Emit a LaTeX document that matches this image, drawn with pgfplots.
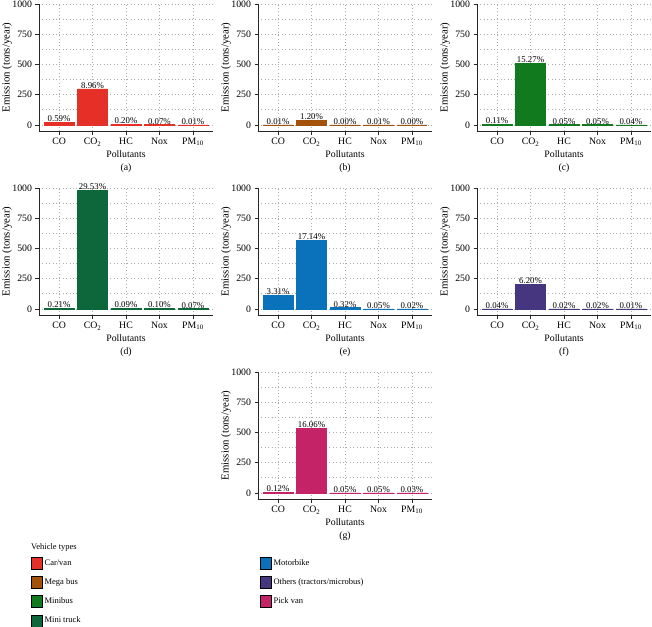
\documentclass[border=0pt]{standalone}
\usepackage{fontspec}
\setmainfont{Liberation Serif}
\usepackage{pgfplots}
\pgfplotsset{compat=1.18}
\usepackage{pgfplotstable}

\definecolor{cCar}{HTML}{E53027}
\definecolor{cMega}{HTML}{A2520A}
\definecolor{cMini}{HTML}{117A1F}
\definecolor{cTruck}{HTML}{0D673A}
\definecolor{cMoto}{HTML}{0A72BA}
\definecolor{cOth}{HTML}{46357F}
\definecolor{cPick}{HTML}{C42368}

% x = pollutant index, y = emission (tons/year), p = share (%)
\pgfplotstableread{
x y p
0 19.6 0.59
1 297.5 8.96
2 6.6 0.20
3 2.3 0.07
4 0.3 0.01
}\tA
\pgfplotstableread{
x y p
0 0.3 0.01
1 39.8 1.20
2 0.0 0.00
3 0.3 0.01
4 0.0 0.00
}\tB
\pgfplotstableread{
x y p
0 3.7 0.11
1 507 15.27
2 1.7 0.05
3 1.7 0.05
4 1.3 0.04
}\tC
\pgfplotstableread{
x y p
0 7.0 0.21
1 980 29.53
2 3.0 0.09
3 3.3 0.10
4 2.3 0.07
}\tD
\pgfplotstableread{
x y p
0 109.9 3.31
1 569 17.14
2 10.6 0.32
3 1.7 0.05
4 0.7 0.02
}\tE
\pgfplotstableread{
x y p
0 1.3 0.04
1 205.8 6.20
2 0.7 0.02
3 0.7 0.02
4 0.3 0.01
}\tF
\pgfplotstableread{
x y p
0 4.0 0.12
1 533 16.06
2 1.7 0.05
3 1.7 0.05
4 1.0 0.03
}\tG

\pgfplotsset{
  panel/.style={
    scale only axis, width=174pt, height=127pt,
    xmin=-0.6, xmax=4.6, ymin=-50, ymax=1000,
    clip=false,
    axis x line*=bottom, axis y line*=left,
    axis line style={-, line width=0.8pt, black!85},
    xtick={0,1,2,3,4},
    xticklabels={CO, CO\textsubscript{2}, HC, Nox, PM\textsubscript{10}},
    ytick={0,250,500,750,1000},
    minor ytick={125,375,625,875},
    xmajorgrids, ymajorgrids, yminorgrids,
    major grid style={gray!65, line width=0.7pt, dash pattern=on 0.7pt off 2.7pt},
    minor grid style={gray!65, line width=0.7pt, dash pattern=on 0.7pt off 2.7pt},
    tick align=outside, major tick length=3.5pt, minor tick length=0pt,
    tick style={black!85, line width=0.6pt},
    font=\fontsize{9.8}{11}\selectfont,
    tick label style={font=\fontsize{9.8}{11}\selectfont},
    /pgf/number format/assume math mode=true,
    /pgf/number format/1000 sep={},
    xlabel={Pollutants}, ylabel={Emission (tons/year)},
    every axis x label/.style={at={(axis description cs:0.5,0)}, anchor=center, yshift=-23pt,
      font=\fontsize{9.8}{11}\selectfont},
    every axis y label/.style={at={(axis description cs:-0.184,0.5)}, anchor=center, rotate=90,
      font=\fontsize{10.8}{12}\selectfont},
    ybar, bar width=30pt,
    nodes near coords={\pgfmathprintnumber[fixed,fixed zerofill,precision=2]{\pgfplotspointmeta}\%},
    nodes near coords style={font=\fontsize{8.8}{9}\selectfont, anchor=south, inner sep=0.3pt,
      /pgf/number format/assume math mode=true},
    point meta=explicit,
  }
}

\newcommand\panel[5]{%
\begin{axis}[panel, at={(#1pt,#2pt)}, anchor=south west]
\addplot[fill=#3, draw=#3, line width=0.5pt] table[x=x, y=y, meta=p] {#4};
\node[font=\fontsize{9.8}{11}\selectfont] at (axis description cs:0.5,0) [yshift=-37pt] {#5};
\end{axis}}

\begin{document}
\begin{tikzpicture}
\useasboundingbox (0pt,0pt) rectangle (652pt,-626pt);

\panel{39}{-131}{cCar}{\tA}{(a)}
\panel{258}{-131}{cMega}{\tB}{(b)}
\panel{477}{-131}{cMini}{\tC}{(c)}
\panel{39}{-315}{cTruck}{\tD}{(d)}
\panel{258}{-315}{cMoto}{\tE}{(e)}
\panel{477}{-315}{cOth}{\tF}{(f)}
\panel{258}{-499}{cPick}{\tG}{(g)}

\node[anchor=west, inner sep=0pt, font=\fontsize{8.5}{9}\selectfont] at (31pt,-547pt) {Vehicle types};

\pgfplotsset{
  legpanel/.style={
    hide axis, scale only axis, width=10pt, height=10pt,
    xmin=0, xmax=1, ymin=0, ymax=1,
    legend style={at={(0,1)}, anchor=north west, draw=none, fill=none,
      font=\fontsize{8.5}{9}\selectfont, row sep=6.7pt, inner sep=0pt,
      nodes={inner sep=2pt}, cells={anchor=west}},
    legend image code/.code={\fill[##1] (0pt,-6pt) rectangle (11pt,6pt);},
  }
}

\begin{axis}[legpanel, at={(31pt,-557pt)}, anchor=north west]
\addlegendimage{fill=cCar}
\addlegendentry{Car/van}
\addlegendimage{fill=cMega}
\addlegendentry{Mega bus}
\addlegendimage{fill=cMini}
\addlegendentry{Minibus}
\addlegendimage{fill=cTruck}
\addlegendentry{Mini truck}
\end{axis}

\begin{axis}[legpanel, at={(260pt,-557pt)}, anchor=north west]
\addlegendimage{fill=cMoto}
\addlegendentry{Motorbike}
\addlegendimage{fill=cOth}
\addlegendentry{Others (tractors/microbus)}
\addlegendimage{fill=cPick}
\addlegendentry{Pick van}
\end{axis}
\end{tikzpicture}
\end{document}
